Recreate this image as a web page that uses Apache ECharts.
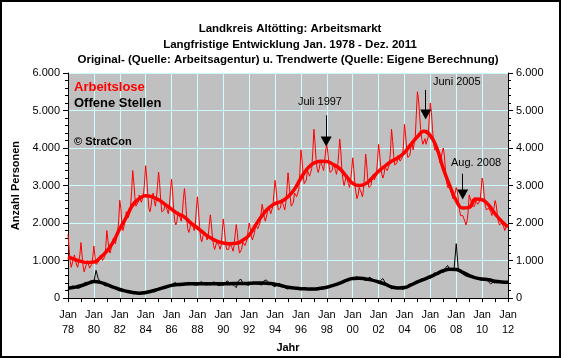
<!DOCTYPE html>
<html><head><meta charset="utf-8">
<script src="https://cdn.jsdelivr.net/npm/echarts@6/dist/echarts.min.js"></script>
<style>html,body{margin:0;padding:0;background:#fff}#c{width:561px;height:358px}</style>
</head><body><div id="c"></div>
<script>
// ---------------- data ----------------
const startYear = 1978;
const titleLines = [
  'Landkreis Altötting: Arbeitsmarkt',
  'Langfristige Entwicklung Jan. 1978 - Dez. 2011',
  'Original- (Quelle: Arbeitsagentur) u. Trendwerte (Quelle: Eigene Berechnung)'
];
const seriesNames = ['Arbeitslose', 'Offene Stellen'];
const yTickLabels = ['0', '1.000', '2.000', '3.000', '4.000', '5.000', '6.000'];
const xTickYears = [1978,1980,1982,1984,1986,1988,1990,1992,1994,1996,1998,2000,2002,2004,2006,2008,2010,2012];
const xTickLabels = ['Jan\n78','Jan\n80','Jan\n82','Jan\n84','Jan\n86','Jan\n88','Jan\n90','Jan\n92','Jan\n94','Jan\n96','Jan\n98','Jan\n00','Jan\n02','Jan\n04','Jan\n06','Jan\n08','Jan\n10','Jan\n12'];

// Arbeitslose, monthly originals (Jan..Dec per row)
const arbeitsloseOriginal = [
  [1700,1300,1000,820,850,1050,1150,1000,880,820,1000,1150],
  [1480,1150,850,700,720,900,1000,950,800,750,900,1100],
  [1390,1100,900,850,950,1050,1150,1100,1000,950,1100,1350],
  [1800,1550,1300,1200,1250,1450,1600,1550,1450,1500,1750,2050],
  [2610,2400,1950,1800,1850,2050,2300,2250,2150,2200,2450,2850],
  [3400,3100,2700,2450,2400,2550,2750,2700,2550,2500,2750,3100],
  [3530,3200,2750,2400,2300,2450,2700,2800,2600,2450,2650,3000],
  [3360,3050,2600,2300,2250,2350,2500,2550,2350,2250,2450,2850],
  [3170,2850,2350,2050,1950,2050,2300,2350,2150,2050,2250,2650],
  [2920,2600,2150,1850,1750,1850,2050,2100,1900,1800,1950,2350],
  [2700,2350,1900,1600,1500,1550,1750,1800,1650,1550,1650,1950],
  [2220,1950,1600,1400,1300,1350,1500,1550,1400,1300,1400,1750],
  [2110,1850,1500,1300,1250,1300,1450,1500,1350,1250,1400,1700],
  [1960,1750,1400,1200,1150,1300,1500,1550,1400,1350,1550,1800],
  [2000,1850,1650,1550,1600,1750,1950,2000,1850,1800,2000,2250],
  [2500,2350,2150,2050,2100,2300,2450,2400,2250,2250,2450,2800],
  [3140,2900,2550,2350,2300,2400,2600,2650,2450,2350,2550,2900],
  [3340,3050,2700,2450,2400,2550,2800,2850,2700,2650,2900,3350],
  [3950,3700,3300,3050,3000,3150,3400,3450,3250,3200,3450,3900],
  [4500,4150,3700,3450,3350,3450,3650,3700,3500,3400,3650,3950],
  [4100,3850,3550,3350,3300,3400,3600,3650,3400,3300,3500,3850],
  [4240,3900,3400,3150,3000,3050,3250,3300,3050,2950,3100,3400],
  [3740,3450,3050,2800,2650,2750,2950,3000,2800,2700,2900,3300],
  [3840,3550,3150,2950,2900,3000,3200,3300,3150,3100,3300,3650],
  [4100,3850,3500,3300,3200,3300,3500,3550,3400,3350,3550,3900],
  [4500,4200,3800,3550,3500,3600,3800,3850,3650,3600,3750,4050],
  [4630,4350,4000,3750,3700,3800,4050,4150,3950,3900,4300,4900],
  [5500,5300,4900,4500,4250,4100,4150,4250,4100,4050,4300,4800],
  [5200,4950,4500,4150,3950,3900,3950,3950,3750,3600,3700,3900],
  [4000,3800,3400,3100,2950,2900,2950,2950,2750,2650,2700,2800],
  [2950,2850,2600,2350,2200,2150,2200,2250,2050,1950,2050,2300],
  [2750,2700,2550,2450,2400,2450,2600,2650,2500,2450,2600,2850],
  [3200,3050,2700,2450,2350,2300,2400,2450,2300,2200,2250,2400],
  [2600,2500,2250,2050,1950,1900,2000,2050,1900,1800,1850,1950]
];
// Arbeitslose trend, half-yearly (Jan, Jul)
const arbeitsloseTrend = [
  1100,1030, 980,950, 960,1080, 1250,1500, 1850,2150, 2480,2650, 2730,2700, 2620,2500,
  2370,2250, 2160,2000, 1870,1730, 1610,1520, 1470,1450, 1460,1540, 1680,1950, 2200,2400,
  2520,2580, 2700,2900, 3200,3450, 3600,3650, 3640,3560, 3450,3250, 3060,3000, 3050,3200,
  3380,3520, 3650,3740, 3880,4100, 4300,4450, 4330,4000, 3450,3000, 2600,2400, 2420,2640,
  2620,2480, 2250,2050, 1900
];
// Offene Stellen, originals every second month (Jan, Mar, May, Jul, Sep, Nov)
const stellenOriginal = [
  [230,290,320,300,270,260],[300,370,420,400,380,390],[430,740,520,430,380,330],
  [330,380,330,280,250,230],[200,240,210,180,160,150],[130,160,150,120,110,120],
  [120,170,200,180,160,190],[210,270,300,280,290,330],[320,400,410,350,330,340],
  [340,400,420,380,360,350],[340,410,440,370,350,360],[350,420,430,360,330,350],
  [340,420,460,390,360,340],[280,450,510,420,380,350],[340,400,430,390,370,360],
  [350,470,480,420,380,330],[300,360,390,340,300,260],[240,290,300,270,250,240],
  [220,260,270,240,220,230],[220,260,280,250,240,260],[260,320,350,330,340,360],
  [370,430,470,480,500,510],[500,550,570,540,510,500],[470,520,560,500,460,430],
  [400,470,520,420,330,290],[250,290,300,270,250,240],[240,310,350,360,380,390],
  [400,470,520,500,520,530],[520,620,680,650,700,720],[680,800,870,750,740,780],
  [1450,720,680,640,600,580],[560,600,580,540,520,500],[470,530,500,430,380,420],
  [400,470,460,440,430,410]
];
// Offene Stellen trend, half-yearly
const stellenTrend = [
  260,290, 330,390, 440,420, 360,290, 230,185, 150,130, 150,190, 240,290,
  340,360, 375,380, 380,380, 380,380, 385,385, 390,390, 395,400, 400,390,
  370,330, 290,270, 250,245, 240,260, 290,340, 400,470, 520,530, 510,480,
  430,370, 300,270, 280,350, 430,500, 570,650, 730,770, 760,690, 600,540,
  510,490, 450,430, 420
];
// annotations (date as decimal year, values in persons)
const annotationTexts = ['Juli 1997', 'Juni 2005', 'Aug. 2008'];
const annotationArrowX = [1997.95, 2005.64, 2008.5];
const annotationArrowTop = [4870, 5550, 3316];
const annotationArrowHead = [4171, 4895, 2763];
const annotationLabelX = [1997.47, 2008.04, 2009.53];
const annotationLabelY = [5237, 5771, 3597];

// ---------------- chart ----------------
const FONT = '"Liberation Sans", Arial, Helvetica, sans-serif';
const toPts = (rows, perYear) => rows.flat().map((v, i) => [startYear + i / perYear, v]);
const halfPts = arr => arr.map((v, i) => [startYear + i * 0.5, v]);

const yFmt = v => yTickLabels[Math.round(v / 1000)] ?? '';
const xFmt = v => { const i = xTickYears.indexOf(Math.round(v)); return i >= 0 ? xTickLabels[i] : ''; };

const yAxisCommon = {
  type: 'value', min: 0, max: 6000, interval: 1000,
  axisLine: { show: true, lineStyle: { color: '#000', width: 1 } },
  axisTick: { show: true, length: 5, lineStyle: { color: '#000' } },
  minorTick: { show: true, splitNumber: 5, length: 3, lineStyle: { color: '#000' } },
  axisLabel: { formatter: yFmt, color: '#000', fontSize: 11, fontFamily: FONT },
};

const chart = echarts.init(document.getElementById('c'), null, { renderer: 'canvas' });
chart.setOption({
  animation: false,
  backgroundColor: '#fff',
  textStyle: { fontFamily: FONT },
  grid: { left: 68, right: 53, top: 73, bottom: 57, show: true, backgroundColor: '#c0c0c0', borderWidth: 0 },
  legend: {
    data: [
      { name: seriesNames[0], textStyle: { color: '#ff0000' } },
      { name: seriesNames[1], textStyle: { color: '#000000' } }
    ],
    orient: 'vertical', left: 69, top: 80, padding: 0,
    icon: 'none', itemWidth: 0, itemHeight: 14, itemGap: 3, selectedMode: false,
    textStyle: { fontSize: 13, fontWeight: 'bold', fontFamily: FONT }
  },
  graphic: [
    { type: 'text', x: 290, y: 29, style: { text: titleLines[0], font: 'bold 11.5px ' + FONT, fill: '#000', textAlign: 'center', textVerticalAlign: 'middle' } },
    { type: 'text', x: 290, y: 44.5, style: { text: titleLines[1], font: 'bold 11.5px ' + FONT, fill: '#000', textAlign: 'center', textVerticalAlign: 'middle' } },
    { type: 'text', x: 288, y: 59.5, style: { text: titleLines[2], font: 'bold 11.5px ' + FONT, fill: '#000', textAlign: 'center', textVerticalAlign: 'middle' } },
    { type: 'text', x: 74, y: 142, z: 100, style: { text: '© StratCon', font: 'bold 11px ' + FONT, fill: '#000', textAlign: 'left', textVerticalAlign: 'middle' } },
    { type: 'rect', shape: { x: 1, y: 1, width: 559, height: 356 }, style: { fill: 'none', stroke: '#000', lineWidth: 2 }, z: 100 }
  ],
  xAxis: {
    type: 'value', min: 1978, max: 2012, interval: 2,
    axisLine: { show: true, lineStyle: { color: '#000', width: 1 } },
    axisTick: { show: true, length: 4, lineStyle: { color: '#000' } },
    minorTick: { show: true, splitNumber: 2, length: 4, lineStyle: { color: '#000' } },
    axisLabel: { formatter: xFmt, color: '#000', fontSize: 11, lineHeight: 15, margin: 9, fontFamily: FONT },
    splitLine: { show: true, lineStyle: { color: '#ccffff', width: 1 } },
    name: 'Jahr', nameLocation: 'middle', nameGap: 35,
    nameTextStyle: { fontWeight: 'bold', fontSize: 11, color: '#000', fontFamily: FONT }
  },
  yAxis: [
    Object.assign({}, yAxisCommon, {
      position: 'left',
      splitLine: { show: true, lineStyle: { color: '#ccffff', width: 1 } },
      name: 'Anzahl Personen', nameLocation: 'middle', nameGap: 46, nameRotate: 90,
      nameTextStyle: { fontWeight: 'bold', fontSize: 11, color: '#000', fontFamily: FONT }
    }),
    Object.assign({}, yAxisCommon, { position: 'right', splitLine: { show: false } })
  ],
  series: [
    { name: seriesNames[0] + ' (Original)', type: 'line', data: toPts(arbeitsloseOriginal, 12), symbol: 'none',
      lineStyle: { color: '#ff0000', width: 1 }, itemStyle: { color: '#ff0000' }, z: 2 },
    { name: seriesNames[0], type: 'line', data: halfPts(arbeitsloseTrend), symbol: 'none', smooth: 0.5,
      lineStyle: { color: '#ff0000', width: 3.5 }, itemStyle: { color: '#ff0000' }, z: 3 },
    { name: seriesNames[1] + ' (Original)', type: 'line', data: toPts(stellenOriginal, 6), symbol: 'none',
      lineStyle: { color: '#000', width: 1 }, itemStyle: { color: '#000' }, z: 4 },
    { name: seriesNames[1], type: 'line', data: halfPts(stellenTrend), symbol: 'none', smooth: 0.5,
      lineStyle: { color: '#000', width: 3.5 }, itemStyle: { color: '#000' }, z: 5,
      markLine: {
        silent: true, z: 10,
        label: { show: false },
        lineStyle: { color: '#000', width: 1, type: 'solid' },
        data: annotationTexts.map((t, i) => [
          { coord: [annotationArrowX[i], annotationArrowTop[i]], symbol: 'none' },
          { coord: [annotationArrowX[i], annotationArrowHead[i]], symbol: 'triangle', symbolSize: [11, 10] }
        ])
      },
      markPoint: {
        silent: true, z: 10,
        data: annotationTexts.map((t, i) => ({
          coord: [annotationLabelX[i], annotationLabelY[i]], symbol: 'rect', symbolSize: 1,
          itemStyle: { color: 'rgba(0,0,0,0)' },
          label: { show: true, position: 'inside', formatter: t, color: '#000', fontSize: 11, fontFamily: FONT }
        }))
      }
    }
  ]
});
</script></body></html>
